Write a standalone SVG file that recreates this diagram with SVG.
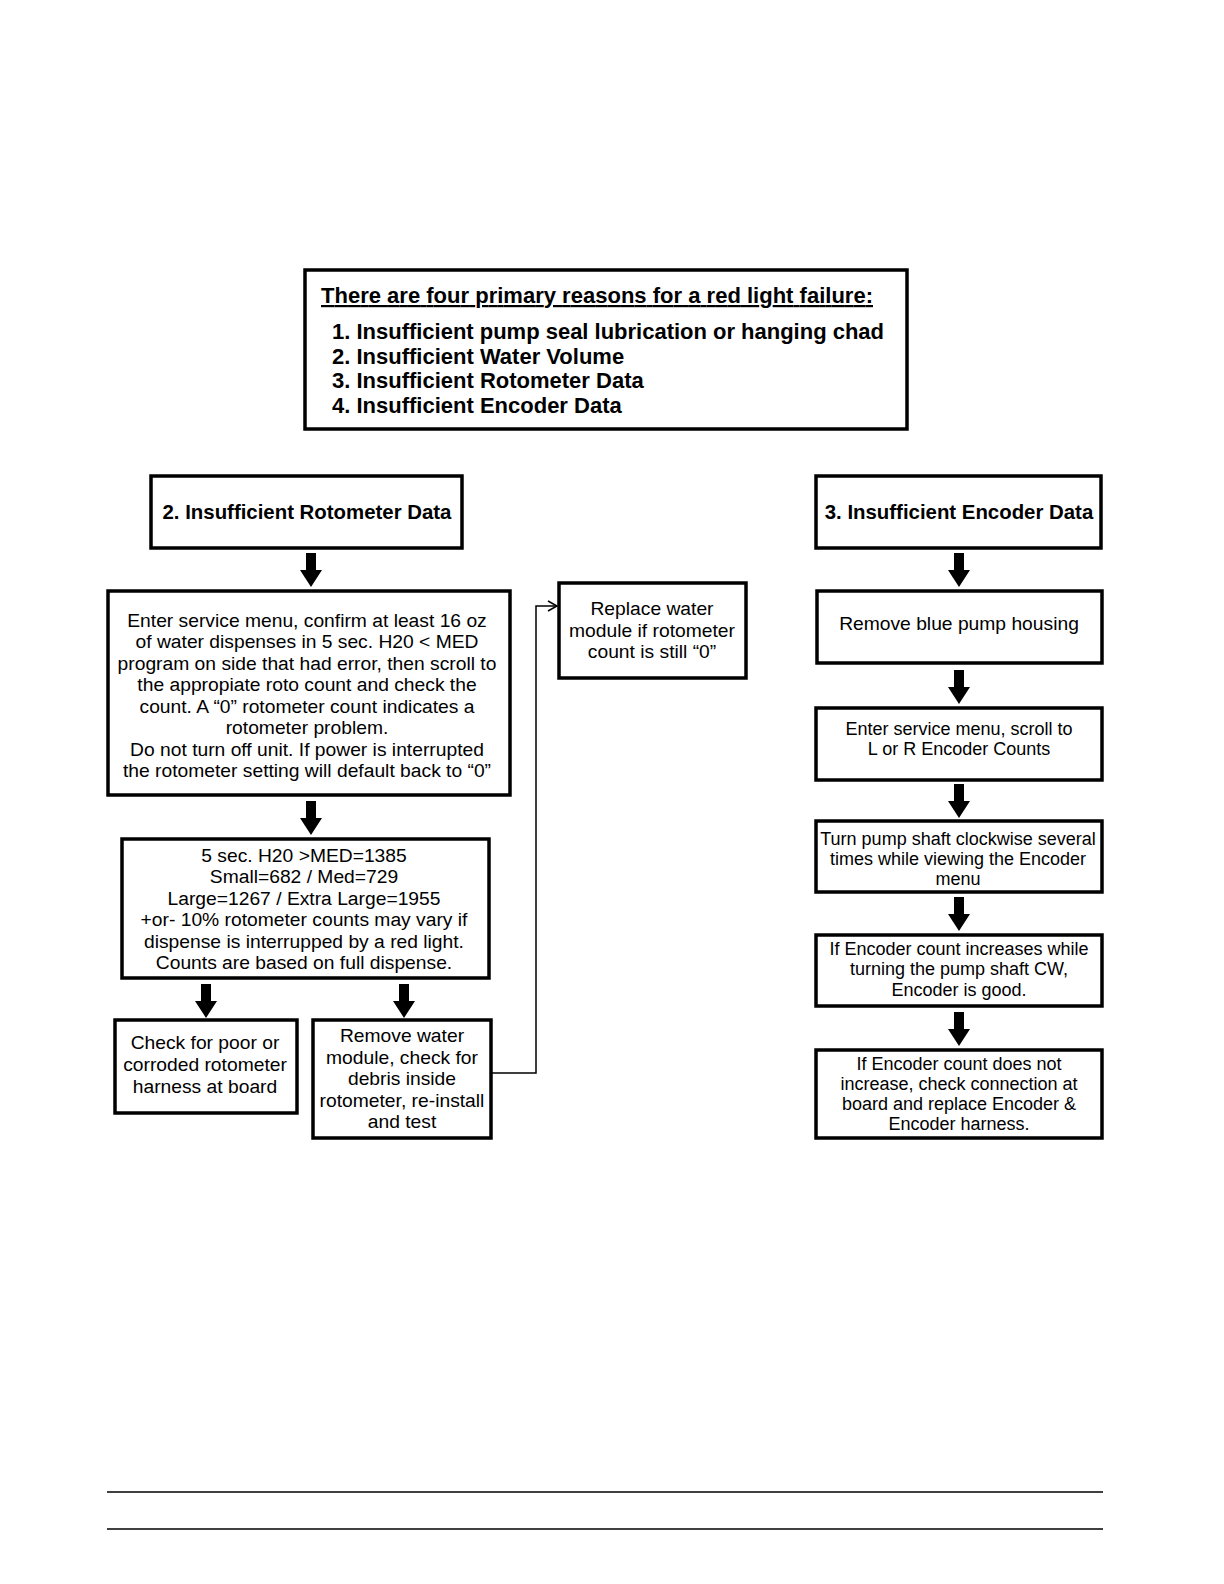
<svg xmlns="http://www.w3.org/2000/svg" width="1224" height="1584" viewBox="0 0 1224 1584">
<style>
.box{fill:#fff;stroke:#000;stroke-width:3.5}
.t{font-family:"Liberation Sans",Arial,sans-serif;font-size:19.25px;fill:#000;text-anchor:middle}
.s{font-size:18px}
.b{font-family:"Liberation Sans",Arial,sans-serif;font-weight:bold;fill:#000}
.conn{fill:none;stroke:#000;stroke-width:1.5}
</style>
<defs>
<path id="barrow" d="M-5,0 H5 V17 H11 L0,34 L-11,17 H-5 Z" fill="#000"/>
<marker id="open" markerWidth="12" markerHeight="12" refX="10" refY="6" orient="auto" markerUnits="userSpaceOnUse">
<path d="M1,1 L10,6 L1,11" fill="none" stroke="#000" stroke-width="1.5"/>
</marker>
</defs>
<rect width="1224" height="1584" fill="#fff"/>

<g id="summary">
<rect class="box" x="305" y="270" width="602" height="159"/>
<text class="b" x="321" y="303" font-size="22" text-decoration="underline" textLength="552">There are four primary reasons for a red light failure:</text>
<text class="b" x="332" y="339" font-size="22" textLength="552">1. Insufficient pump seal lubrication or hanging chad</text>
<text class="b" x="332" y="364" font-size="22">2. Insufficient Water Volume</text>
<text class="b" x="332" y="388" font-size="22">3. Insufficient Rotometer Data</text>
<text class="b" x="332" y="413" font-size="22">4. Insufficient Encoder Data</text>
</g>

<g id="rotoHeader">
<rect class="box" x="151" y="476" width="311" height="72"/>
<text class="b" x="307" y="519" font-size="20.4" text-anchor="middle">2. Insufficient Rotometer Data</text>
</g>

<g id="rotoService">
<rect class="box" x="108" y="591" width="402" height="204"/>
<text class="t" x="307" y="627">Enter service menu, confirm at least 16 oz</text>
<text class="t" x="307" y="648">of water dispenses in 5 sec. H20 &lt; MED</text>
<text class="t" x="307" y="670">program on side that had error, then scroll to</text>
<text class="t" x="307" y="691">the appropiate roto count and check the</text>
<text class="t" x="307" y="713">count. A “0” rotometer count indicates a</text>
<text class="t" x="307" y="734">rotometer problem.</text>
<text class="t" x="307" y="756">Do not turn off unit. If power is interrupted</text>
<text class="t" x="307" y="777">the rotometer setting will default back to “0”</text>
</g>

<g id="rotoCounts">
<rect class="box" x="122" y="839" width="367" height="139"/>
<text class="t" x="304" y="862">5 sec. H20 &gt;MED=1385</text>
<text class="t" x="304" y="883">Small=682 / Med=729</text>
<text class="t" x="304" y="905">Large=1267 / Extra Large=1955</text>
<text class="t" x="304" y="926">+or- 10% rotometer counts may vary if</text>
<text class="t" x="304" y="948">dispense is interrupped by a red light.</text>
<text class="t" x="304" y="969">Counts are based on full dispense.</text>
</g>

<g id="checkHarness">
<rect class="box" x="115" y="1020" width="182" height="93"/>
<text class="t" x="205" y="1049">Check for poor or</text>
<text class="t" x="205" y="1071">corroded rotometer</text>
<text class="t" x="205" y="1093">harness at board</text>
</g>

<g id="removeModule">
<rect class="box" x="313" y="1020" width="178" height="118"/>
<text class="t" x="402" y="1042">Remove water</text>
<text class="t" x="402" y="1064">module, check for</text>
<text class="t" x="402" y="1085">debris inside</text>
<text class="t" x="402" y="1107">rotometer, re-install</text>
<text class="t" x="402" y="1128">and test</text>
</g>

<g id="replaceModule">
<rect class="box" x="559" y="583" width="187" height="95"/>
<text class="t" x="652" y="615">Replace water</text>
<text class="t" x="652" y="637">module if rotometer</text>
<text class="t" x="652" y="658">count is still “0”</text>
</g>

<g id="encHeader">
<rect class="box" x="816" y="476" width="285" height="72"/>
<text class="b" x="959" y="519" font-size="20.4" text-anchor="middle">3. Insufficient Encoder Data</text>
</g>

<g id="encHousing">
<rect class="box" x="817" y="591" width="285" height="72"/>
<text class="t" x="959" y="630">Remove blue pump housing</text>
</g>

<g id="encService">
<rect class="box" x="816" y="708" width="286" height="72"/>
<text class="t s" x="959" y="735">Enter service menu, scroll to</text>
<text class="t s" x="959" y="755">L or R Encoder Counts</text>
</g>

<g id="encTurn">
<rect class="box" x="816" y="821" width="286" height="71"/>
<text class="t s" x="958" y="845">Turn pump shaft clockwise several</text>
<text class="t s" x="958" y="865">times while viewing the Encoder</text>
<text class="t s" x="958" y="885">menu</text>
</g>

<g id="encGood">
<rect class="box" x="816" y="935" width="286" height="71"/>
<text class="t s" x="959" y="955">If Encoder count increases while</text>
<text class="t s" x="959" y="975">turning the pump shaft CW,</text>
<text class="t s" x="959" y="996">Encoder is good.</text>
</g>

<g id="encReplace">
<rect class="box" x="816" y="1050" width="286" height="88"/>
<text class="t s" x="959" y="1070">If Encoder count does not</text>
<text class="t s" x="959" y="1090">increase, check connection at</text>
<text class="t s" x="959" y="1110">board and replace Encoder &amp;</text>
<text class="t s" x="959" y="1130">Encoder harness.</text>
</g>

<g id="connectors">
<use href="#barrow" x="311" y="553"/>
<use href="#barrow" x="311" y="801"/>
<use href="#barrow" x="206" y="984"/>
<use href="#barrow" x="404" y="984"/>
<use href="#barrow" x="959" y="553"/>
<use href="#barrow" x="959" y="670"/>
<use href="#barrow" x="959" y="784"/>
<use href="#barrow" x="959" y="897"/>
<use href="#barrow" x="959" y="1012"/>
<path class="conn" d="M491,1073 H536 V606 H557" marker-end="url(#open)"/>
</g>

<g id="footer">
<line x1="107" y1="1492" x2="1103" y2="1492" stroke="#000" stroke-width="1.5"/>
<line x1="107" y1="1529" x2="1103" y2="1529" stroke="#000" stroke-width="1.5"/>
</g>
</svg>
